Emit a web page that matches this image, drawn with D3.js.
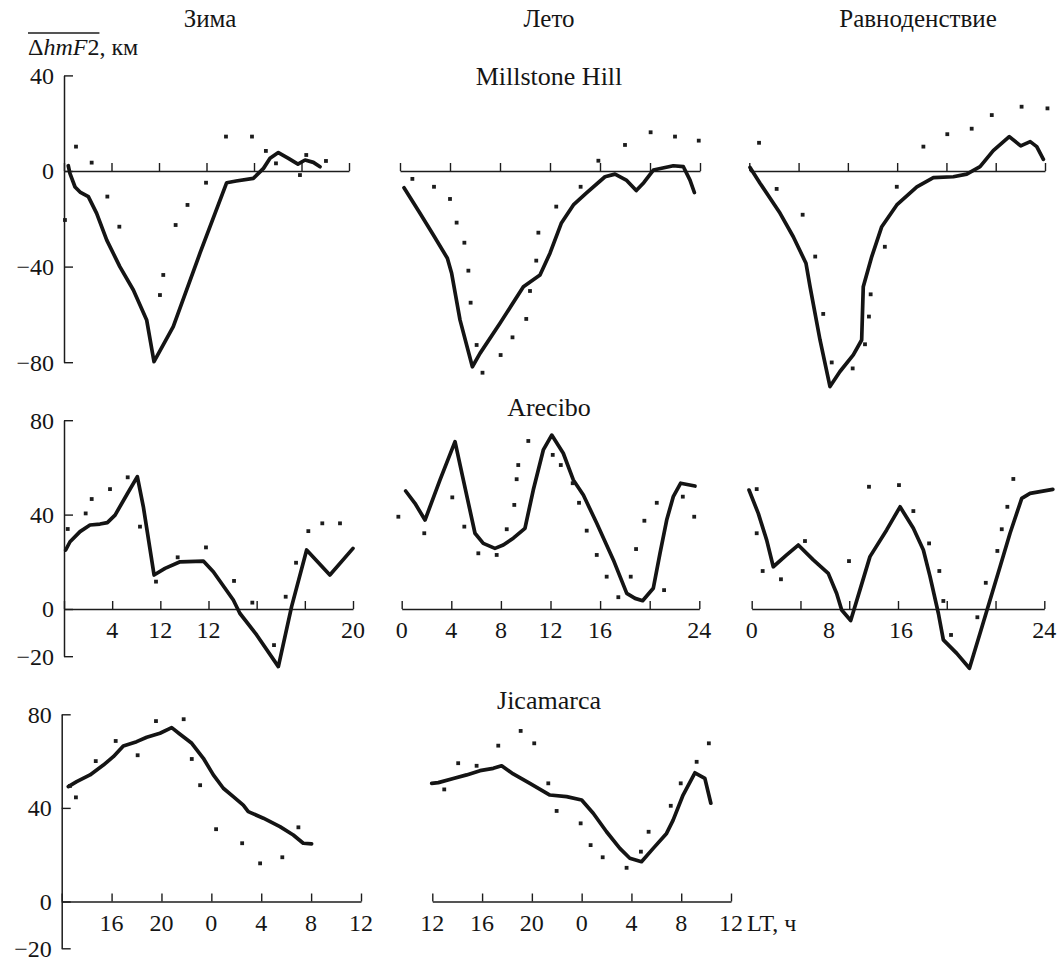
<!DOCTYPE html>
<html>
<head>
<meta charset="utf-8">
<script src="https://cdn.jsdelivr.net/npm/d3@7"></script>
<style>
  body { margin: 0; background: #fff; }
  svg text { font-family: "Liberation Serif", "Times New Roman", serif; fill: #151515; }
</style>
</head>
<body>
<svg id="chart" width="1061" height="965"></svg>
<script>
// hours (LT), delta hmF2 (km)
let msWinterLine = [[0.36,2.2],[0.5,-1],[0.93,-6.7],[1.35,-8.8],[2.05,-10.7],[2.75,-17.7],[3.6,-28.9],[4.7,-40],[5.84,-49.8],[6.96,-62.3],[7.58,-79.8],[9.2,-65.1],[11.45,-34.4],[13.7,-4.9],[14.5,-4.2],[15.94,-3.1],[16.8,1.1],[17.35,5.3],[18.05,7.7],[18.9,5.3],[19.7,2.9],[20.3,4.6],[21,3.6],[21.56,1.8]]
let msWinterDots = [[0.08,-20.5],[1.01,10.2],[2.33,3.5],[3.65,-10.7],[4.66,-23.3],[8.08,-51.9],[8.36,-43.5],[9.4,-22.6],[10.4,-14.2],[11.96,-4.9],[13.64,14.4],[15.83,14.4],[17,8.4],[17.85,3.2],[19.87,-1.7],[20.4,6.7],[22.06,4.2]]

let msSummerLine = [[0.32,-7],[1.6,-17.7],[2.67,-26.8],[3.79,-36.5],[4.13,-42.8],[4.8,-62.3],[5.79,-81.9],[6.4,-76.3],[8,-63.7],[9.87,-48.4],[11.2,-43.5],[12,-34.4],[12.9,-21.9],[13.87,-14.2],[14.9,-9.3],[16.4,-2.4],[17.2,-1.3],[18.1,-3.8],[18.9,-8.2],[19.5,-4.9],[20.27,0.4],[21.87,2.2],[22.67,1.8],[23.2,-3.8],[23.55,-9]]
let msSummerDots = [[0.99,-3.3],[2.72,-6.6],[4.0,-11.7],[4.53,-21.6],[5.15,-30],[5.47,-41.7],[5.65,-55.1],[6.13,-72.8],[6.6,-84.4],[8.05,-77],[9.0,-69.6],[10.1,-61.9],[10.4,-50.2],[10.9,-37.5],[11.07,-25.8],[12.5,-14.9],[14.45,-6.6],[15.87,4.3],[18,10.9],[20.05,16.2],[22,14.4],[23.9,12.7]]

let msEquinoxLine = [[0.06,1.5],[0.87,-5.1],[2.5,-17.7],[3.57,-27.5],[4.6,-38.6],[4.93,-48.4],[5.74,-70.7],[6.55,-90.2],[7.36,-83.9],[8.44,-76.9],[9.12,-70.7],[9.25,-48.4],[9.94,-35.8],[10.75,-23.3],[11.97,-14.2],[13.6,-6.6],[14.94,-2.8],[16.56,-2.4],[17.65,-1.3],[18.73,1.8],[19.8,8.5],[21.1,14.4],[22.03,10.5],[22.8,12.3],[23.33,10.2],[23.87,4.9]]
let msEquinoxDots = [[0.79,11.8],[2.22,-7.5],[4.33,-18.3],[5.35,-35.8],[6.0,-59.8],[6.69,-80.1],[8.39,-82.6],[9.39,-72.5],[9.71,-60.9],[9.85,-51.6],[11.0,-31.7],[11.97,-6.6],[14.13,10.2],[16.07,15.4],[18.05,17.7],[19.68,23.4],[22.1,26.9],[24.2,26.2]]

let arWinterLine = [[0.14,25],[0.5,28.5],[1.33,32.8],[2.16,35.6],[2.99,36],[3.6,36.6],[4.24,39.8],[5.2,48.3],[6.09,56.1],[6.59,43.3],[7.48,14.4],[8.39,17.2],[9.64,20],[11.57,20.3],[12.4,15.8],[14.06,3.8],[14.6,-1.8],[16,-11],[17.8,-24.4],[18.9,1],[20.15,25],[22.08,14.4],[24,25.7]]
let arWinterDots = [[0.31,33.9],[1.8,40.5],[2.3,46.6],[3.82,50.8],[5.29,55.8],[6.31,34.9],[7.64,11.6],[9.44,21.9],[11.79,26.1],[14.12,11.9],[15.64,2.7],[17.44,-15.3],[18.41,5.2],[19.27,19.6],[20.29,33],[21.45,36.3],[22.92,36.3]]

let arSummerLine = [[0.32,50],[1.07,44.8],[1.88,37.7],[3.09,54.7],[4.3,70.9],[4.97,54.7],[5.91,32.1],[6.58,27.8],[7.52,25.7],[8.19,27.1],[9.0,30],[9.94,34.2],[10.61,50.4],[11.42,67.4],[12.1,73.7],[13.03,66],[13.84,54.7],[14.65,48.3],[15.73,36.3],[17.07,20.8],[18.15,6.6],[18.82,4.5],[19.43,3.5],[20.29,8.8],[20.83,23.6],[21.37,37.7],[21.9,47.6],[22.5,53.3],[23.65,52.1]]
let arSummerDots = [[-0.27,39.1],[1.82,32.1],[4.08,47.3],[5.05,34.9],[6.18,23.6],[7.66,22.9],[8.47,33.8],[9.08,44.1],[9.27,55],[9.4,61],[10.21,71.2],[12.18,65.3],[12.83,61],[13.79,53.3],[14.3,45],[14.92,33.2],[15.73,22.9],[16.53,13.7],[17.47,5],[18.47,13.7],[18.9,25.4],[19.57,37.4],[20.57,45],[21.16,8],[22.67,47.6],[23.59,39.1]]

let arEquinoxLine = [[-0.22,50.4],[0.54,40.5],[1.23,29.2],[1.77,17.9],[2.87,22.9],[3.82,27.1],[5.05,20.8],[6.28,15.1],[6.97,6.6],[7.38,-0.4],[8.12,-4.9],[8.88,8.1],[9.7,22.2],[11.07,33.5],[12.17,43.3],[13.26,34.2],[14.08,25],[14.63,13.7],[15.31,-1.8],[15.72,-13.1],[16.82,-18.8],[17.86,-25.1],[18.73,-10.3],[19.55,3.8],[20.37,17.9],[21.19,32.1],[22.15,46.9],[22.83,49],[24.7,50.7]]
let arEquinoxDots = [[0.41,50.8],[0.41,32.1],[0.9,16.1],[2.4,12.6],[4.37,28.8],[7.98,20.3],[9.62,51.8],[12.08,52.5],[13.26,41.5],[14.55,27.8],[15.39,16.1],[15.72,3.4],[16.35,-11],[18.51,-3.5],[19.2,11.1],[20.15,24.6],[20.51,33.8],[20.97,43.3],[21.46,55.1]]

let jiWinterLine = [[12.53,49.1],[13.2,51.2],[14.27,54.1],[15.34,58.3],[16.14,61.9],[16.94,66.5],[18.01,68.3],[18.82,70.2],[19.88,71.9],[20.82,74.3],[21.49,71.5],[22.43,67.6],[23.36,61.2],[24.16,54.1],[24.96,48.4],[25.76,44.8],[26.56,41.2],[26.96,38.4],[28.17,35.6],[29.5,32],[30.57,28.4],[31.37,24.9],[32.04,24.6]]
let jiWinterDots = [[12.67,49.4],[13.14,44.5],[14.73,60],[16.33,68.6],[18.09,62.5],[19.56,77.1],[21.78,77.9],[22.43,60.9],[23.1,49.7],[24.38,30.9],[26.47,24.9],[27.91,16.3],[29.69,18.9],[30.98,31.7]]

let jiSummerLine = [[11.95,50.5],[12.48,50.8],[13.69,52.6],[14.76,54.1],[15.83,55.9],[16.9,56.9],[17.57,58],[18.5,54.5],[19.84,50.5],[21.45,45.5],[22.79,44.8],[24,43.4],[24.93,37.7],[26,29.8],[27.07,22.7],[27.87,18.5],[28.81,17],[29.75,22.7],[30.82,29.1],[31.35,34.8],[32.15,45.5],[33.1,55],[33.9,52.6],[34.38,42]]
let jiSummerDots = [[12.96,47.9],[14.08,59.1],[15.56,58],[17.3,66.6],[19.1,72.9],[20.19,67.6],[21.32,50.5],[21.99,38.7],[23.92,33.4],[24.72,24.1],[25.69,18.9],[27.61,14.4],[28.76,21.3],[29.38,29.8],[31.16,40.9],[31.96,50.5],[33.24,59.7],[34.22,67.6]]

// tick values and labels
let dayTicks = [0, 4, 8, 12, 16, 20, 24]
let noonTicks = [12, 16, 20, 24, 28, 32, 36]
let msYTicks = [40, 0, -40, -80]
let lowYTicks = [80, 40, 0, -20]
let arWinterLabelAt = [4, 8, 12, 24]
let arWinterLabels = ["4", "12", "12", "20"]
let arSummerLabelAt = [0, 4, 8, 12, 16, 24]
let arSummerLabels = ["0", "4", "8", "12", "16", "24"]
let arEquinoxLabelAt = [0, 6.35, 12.25, 24]
let arEquinoxLabels = ["0", "8", "16", "24"]
let jiWinterLabelAt = [16, 20, 24, 28, 32, 36]
let jiWinterLabels = ["16", "20", "0", "4", "8", "12"]
let jiSummerLabelAt = [12, 16, 20, 24, 28, 32, 36]
let jiSummerLabels = ["12", "16", "20", "0", "4", "8", "12"]

let seasonTitles = ["Зима", "Лето", "Равноденствие"]
let stationTitles = ["Millstone Hill", "Arecibo", "Jicamarca"]

let rows = [
    { yDomain: [-80, 40], yRange: [362.2, 75.4], yTicks: msYTicks },
    { yDomain: [-20, 80], yRange: [656.2, 420.2], yTicks: lowYTicks },
    { yDomain: [-20, 80], yRange: [948.3, 714.3], yTicks: lowYTicks }
]

let panels = [
    { row: 0, x0: 64, x1: 349, dom: [0, 24], ticks: dayTicks, line: msWinterLine, dots: msWinterDots, yAxis: true },
    { row: 0, x0: 400, x1: 700, dom: [0, 24], ticks: dayTicks, line: msSummerLine, dots: msSummerDots },
    { row: 0, x0: 749.3, x1: 1045, dom: [0, 24], ticks: dayTicks, line: msEquinoxLine, dots: msEquinoxDots },
    { row: 1, x0: 64, x1: 353, dom: [0, 24], ticks: dayTicks, line: arWinterLine, dots: arWinterDots, yAxis: true, labelAt: arWinterLabelAt, labels: arWinterLabels },
    { row: 1, x0: 401.7, x1: 699.3, dom: [0, 24], ticks: dayTicks, line: arSummerLine, dots: arSummerDots, labelAt: arSummerLabelAt, labels: arSummerLabels },
    { row: 1, x0: 751.7, x1: 1044.3, dom: [0, 24], ticks: dayTicks, line: arEquinoxLine, dots: arEquinoxDots, labelAt: arEquinoxLabelAt, labels: arEquinoxLabels },
    { row: 2, x0: 61.7, x1: 361, dom: [12, 36], ticks: noonTicks, line: jiWinterLine, dots: jiWinterDots, yAxis: true, labelAt: jiWinterLabelAt, labels: jiWinterLabels },
    { row: 2, x0: 432.3, x1: 731, dom: [12, 36], ticks: noonTicks, line: jiSummerLine, dots: jiSummerDots, labelAt: jiSummerLabelAt, labels: jiSummerLabels }
]

let svg = d3.select("#chart")
let ink = "#1c1c1c"

function drawPanel(p) {
    let r = rows[p.row]
    let X = d3.scaleLinear().domain(p.dom).range([p.x0, p.x1])
    let Y = d3.scaleLinear().domain(r.yDomain).range(r.yRange)
    let g = svg.append("g")

    // x axis along zero, ticks pointing up
    let xaxis = d3.axisTop(X).tickValues(p.ticks).tickSize(8).tickSizeOuter(0).tickFormat("")
    let xg = g.append("g")
              .attr("transform", "translate(0," + Y(0) + ")")
              .call(xaxis)
    xg.select(".domain").attr("stroke", ink).attr("stroke-width", 1.5)
    xg.selectAll(".tick line").attr("stroke", ink).attr("stroke-width", 1.4)

    if (p.labels) {
        g.selectAll("text.xlab")
         .data(p.labels)
         .enter()
         .append("text")
         .attr("class", "xlab")
         .attr("x", (d, i) => X(p.labelAt[i]))
         .attr("y", Y(0) + 29)
         .attr("text-anchor", "middle")
         .style("font-size", "24px")
         .text(d => d)
    }

    if (p.yAxis) {
        let yaxis = d3.axisRight(Y).tickValues(r.yTicks).tickSize(9).tickSizeOuter(0).tickFormat("")
        let yg = g.append("g")
                  .attr("transform", "translate(" + p.x0 + ",0)")
                  .call(yaxis)
        yg.select(".domain").attr("stroke", ink).attr("stroke-width", 1.5)
        yg.selectAll(".tick line").attr("stroke", ink).attr("stroke-width", 1.4)

        g.selectAll("text.ylab")
         .data(r.yTicks)
         .enter()
         .append("text")
         .attr("class", "ylab")
         .attr("x", p.x0 - 10)
         .attr("y", d => Y(d))
         .attr("dy", "0.35em")
         .attr("text-anchor", "end")
         .style("font-size", "24px")
         .text(d => d < 0 ? "\u2212" + Math.abs(d) : d)
    }

    let line = d3.line()
                 .x(d => X(d[0]))
                 .y(d => Y(d[1]))

    g.append("path")
     .attr("fill", "none")
     .attr("stroke", "#141414")
     .attr("stroke-width", 3.7)
     .attr("stroke-linejoin", "round")
     .attr("stroke-linecap", "round")
     .attr("d", line(p.line))

    g.selectAll("rect.dot")
     .data(p.dots)
     .enter()
     .append("rect")
     .attr("class", "dot")
     .attr("x", d => X(d[0]) - 1.9)
     .attr("y", d => Y(d[1]) - 1.9)
     .attr("width", 3.8)
     .attr("height", 3.8)
     .attr("fill", ink)
}

panels.forEach(drawPanel)

// season and station titles
let seasonX = [210, 549, 918]
svg.selectAll("text.season")
   .data(seasonTitles)
   .enter()
   .append("text")
   .attr("class", "season")
   .attr("x", (d, i) => seasonX[i])
   .attr("y", 27)
   .attr("text-anchor", "middle")
   .style("font-size", "25px")
   .text(d => d)

let stationY = [85, 416, 709]
svg.selectAll("text.station")
   .data(stationTitles)
   .enter()
   .append("text")
   .attr("class", "station")
   .attr("x", 549)
   .attr("y", (d, i) => stationY[i])
   .attr("text-anchor", "middle")
   .style("font-size", "26px")
   .text(d => d)

// y axis title with overline
let ytitle = svg.append("text")
                .attr("x", 28)
                .attr("y", 55)
                .style("font-size", "24px")
ytitle.append("tspan").text("\u0394")
ytitle.append("tspan").style("font-style", "italic").text("hmF")
ytitle.append("tspan").text("2")
ytitle.append("tspan").text(", км")
let barLen = ytitle.node().getSubStringLength(0, 5)
svg.append("line")
   .attr("x1", 28)
   .attr("x2", 28 + barLen)
   .attr("y1", 33)
   .attr("y2", 33)
   .attr("stroke", ink)
   .attr("stroke-width", 1.3)

// LT unit after last tick
svg.append("text")
   .attr("x", 747)
   .attr("y", rows[2].yRange[0] - (rows[2].yRange[0] - rows[2].yRange[1]) * 0.2 + 29)
   .style("font-size", "24px")
   .text("LT, ч")
</script>
</body>
</html>
